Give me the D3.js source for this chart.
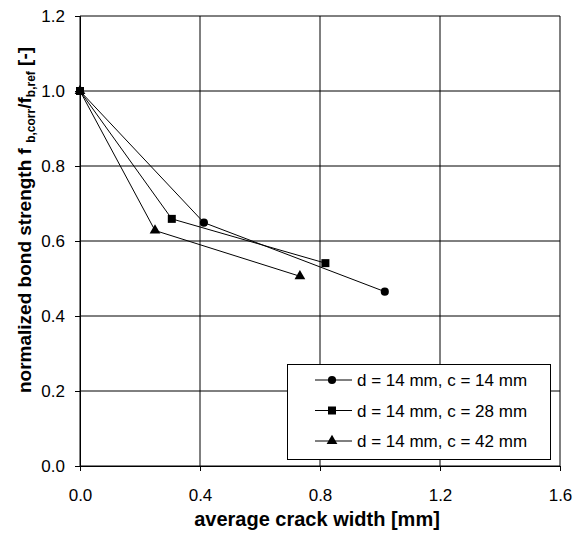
<!DOCTYPE html>
<html>
<head>
<meta charset="utf-8">
<script src="https://cdn.jsdelivr.net/npm/d3@7"></script>
<style>
  body { margin: 0; background: #fff; }
  text { font-family: "Liberation Sans", Arial, sans-serif; fill: #000; }
</style>
</head>
<body>
<script>
// data
var series_names = ["d = 14 mm, c = 14 mm", "d = 14 mm, c = 28 mm", "d = 14 mm, c = 42 mm"];
var series_symbols = ["circle", "square", "triangle"];
var crack_c14 = [0.0, 0.413, 1.016];
var bond_c14 = [1.0, 0.649, 0.465];
var crack_c28 = [0.0, 0.306, 0.818];
var bond_c28 = [1.0, 0.659, 0.541];
var crack_c42 = [0.0, 0.25, 0.733];
var bond_c42 = [1.0, 0.628, 0.506];
var x_ticks = [0.0, 0.4, 0.8, 1.2, 1.6];
var y_ticks = [0.0, 0.2, 0.4, 0.6, 0.8, 1.0, 1.2];

var crack = [crack_c14, crack_c28, crack_c42];
var bond = [bond_c14, bond_c28, bond_c42];

var width = 583, height = 534;
var margin = {left: 80, right: 23, top: 16, bottom: 68};

var svg = d3.select("body").append("svg")
    .attr("width", width)
    .attr("height", height);

var x = d3.scaleLinear().domain([0, 1.6]).range([margin.left, width - margin.right]);
var y = d3.scaleLinear().domain([0, 1.2]).range([height - margin.bottom, margin.top]);

// grid
svg.append("g").selectAll("line.v")
    .data(x_ticks)
    .enter().append("line")
    .attr("x1", function(d) { return x(d); })
    .attr("x2", function(d) { return x(d); })
    .attr("y1", y(0)).attr("y2", y(1.2))
    .attr("stroke", "#000").attr("stroke-width", 1);

svg.append("g").selectAll("line.h")
    .data(y_ticks)
    .enter().append("line")
    .attr("x1", x(0)).attr("x2", x(1.6))
    .attr("y1", function(d) { return y(d); })
    .attr("y2", function(d) { return y(d); })
    .attr("stroke", "#000").attr("stroke-width", 1);

// axes
var xAxis = svg.append("g")
    .attr("transform", "translate(0," + y(0) + ")")
    .call(d3.axisBottom(x).tickValues(x_ticks).tickSize(5).tickPadding(18).tickFormat(d3.format(".1f")));
var yAxis = svg.append("g")
    .attr("transform", "translate(" + x(0) + ",0)")
    .call(d3.axisLeft(y).tickValues(y_ticks).tickSize(5).tickPadding(10).tickFormat(d3.format(".1f")));

[xAxis, yAxis].forEach(function(a) {
  a.select(".domain").attr("stroke", "#000");
  a.selectAll(".tick line").attr("stroke", "#000");
  a.selectAll(".tick text").style("font-size", "17px").style("font-family", "Liberation Sans, Arial, sans-serif");
});

// axis titles
svg.append("text")
    .attr("x", x(0.8) - 3).attr("y", 526)
    .attr("text-anchor", "middle")
    .style("font-size", "20px").style("font-weight", "bold")
    .text("average crack width [mm]");

var yt = svg.append("text")
    .attr("transform", "translate(31,393) rotate(-90)")
    .attr("text-anchor", "start")
    .style("font-size", "19px").style("font-weight", "bold");
yt.append("tspan").text("normalized bond strength f ");
yt.append("tspan").attr("dy", 4).style("font-size", "12px").text("b,corr");
yt.append("tspan").attr("dy", -4).text("/f");
yt.append("tspan").attr("dy", 4).style("font-size", "12px").text("b,ref");
yt.append("tspan").attr("dy", -4).text(" [-]");

// symbols
var symbolType = {circle: d3.symbolCircle, square: d3.symbolSquare, triangle: d3.symbolTriangle};
var symbolSize = {circle: 52, square: 64, triangle: 50};
function symbolPath(name) {
  return d3.symbol().type(symbolType[name]).size(symbolSize[name])();
}

var line = d3.line()
    .x(function(d) { return x(d[0]); })
    .y(function(d) { return y(d[1]); });

series_names.forEach(function(name, i) {
  var pts = crack[i].map(function(c, j) { return [c, bond[i][j]]; });
  svg.append("path")
      .attr("d", line(pts))
      .attr("fill", "none")
      .attr("stroke", "#000")
      .attr("stroke-width", 1);
  svg.append("g").selectAll("path")
      .data(pts)
      .enter().append("path")
      .attr("d", symbolPath(series_symbols[i]))
      .attr("transform", function(d) { return "translate(" + x(d[0]) + "," + y(d[1]) + ")"; })
      .attr("fill", "#000");
});

// legend
var lg = svg.append("g");
lg.append("rect")
    .attr("x", 287.5).attr("y", 364.5)
    .attr("width", 263).attr("height", 95)
    .attr("fill", "#fff").attr("stroke", "#000").attr("stroke-width", 1);

series_names.forEach(function(name, i) {
  var ry = 380 + i * 30.5;
  lg.append("line")
      .attr("x1", 315).attr("x2", 352)
      .attr("y1", ry).attr("y2", ry)
      .attr("stroke", "#000");
  lg.append("path")
      .attr("d", symbolPath(series_symbols[i]))
      .attr("transform", "translate(332," + ry + ")")
      .attr("fill", "#000");
  lg.append("text")
      .attr("x", 357).attr("y", ry + 6)
      .style("font-size", "17px")
      .text(name);
});
</script>
</body>
</html>
